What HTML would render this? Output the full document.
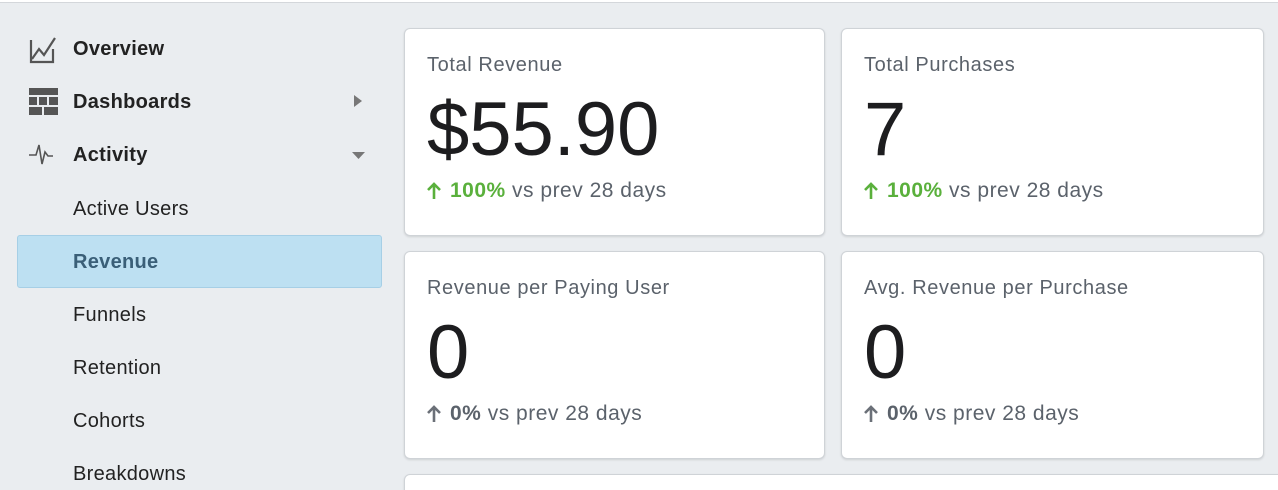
<!DOCTYPE html>
<html><head><meta charset="utf-8"><style>
*{margin:0;padding:0;box-sizing:border-box}
html,body{width:1278px;height:490px;overflow:hidden}
body{background:#eaedf0;font-family:"Liberation Sans",sans-serif;position:relative}
.top{position:absolute;left:0;top:0;width:1278px;height:3px;background:#fff;border-bottom:1px solid #d4d7db}
.nav{position:absolute;left:73px;font-size:20px;color:#222;letter-spacing:0.3px}
.b{font-weight:bold}
.sel{position:absolute;left:17px;top:235px;width:365px;height:53px;background:#bde0f2;border:1px solid #a6cfe6;border-radius:3px}
.card{position:absolute;background:#fff;border:1px solid #cfd3d7;border-radius:6px;box-shadow:0 1px 2px rgba(0,0,0,.12)}
.t{position:absolute;left:22px;top:25px;font-size:20px;color:#5b626b;letter-spacing:0.6px}
.n{position:absolute;left:22px;top:63px;font-size:76px;color:#1d1d1f;line-height:1}
.c{position:absolute;left:22px;top:150px;font-size:21px;color:#5b626b;letter-spacing:0.5px;white-space:nowrap}
.c svg{vertical-align:-2px;margin-right:9px}
.g{color:#5ab03c;font-weight:bold}
.z{color:#5b626b;font-weight:bold}
</style></head><body>
<div class="top"></div>
<svg style="position:absolute;left:28px;top:35px" width="30" height="30" viewBox="0 0 30 30" fill="none" stroke="#555" stroke-width="2.2"><path d="M3 5V27H25V14"/><path d="M4 24L11 14L16 20L27 3"/></svg>
<div class="nav b" style="top:38px">Overview</div>
<svg style="position:absolute;left:29px;top:88px" width="29" height="28" viewBox="0 0 29 28" fill="#555"><rect x="0" y="0" width="29" height="7"/><rect x="0" y="9" width="8" height="8"/><rect x="10" y="9" width="8" height="8"/><rect x="20" y="9" width="9" height="8"/><rect x="0" y="19" width="13" height="8"/><rect x="15" y="19" width="14" height="8"/></svg>
<div class="nav b" style="top:91px">Dashboards</div>
<svg style="position:absolute;left:354px;top:95px" width="8" height="12"><path d="M0 0L8 6L0 12Z" fill="#777"/></svg>
<svg style="position:absolute;left:29px;top:142px" width="29" height="24" viewBox="0 0 29 24" fill="none" stroke="#555" stroke-width="1.6"><path d="M0 13H7L10 3L13 22L16 10L19 14H24"/></svg>
<div class="nav b" style="top:144px">Activity</div>
<svg style="position:absolute;left:352px;top:152px" width="13" height="7"><path d="M0 0H13L6.5 7Z" fill="#777"/></svg>
<div class="nav" style="top:198px">Active Users</div>
<div class="sel"></div>
<div class="nav b" style="top:251px;color:#3a5f78">Revenue</div>
<div class="nav" style="top:304px">Funnels</div>
<div class="nav" style="top:357px">Retention</div>
<div class="nav" style="top:410px">Cohorts</div>
<div class="nav" style="top:463px">Breakdowns</div>

<div class="card" style="left:404px;top:28px;width:421px;height:208px"><div class="t">Total Revenue</div><div class="n">$55.90</div><div class="c"><svg width="14" height="17" viewBox="0 0 14 17" fill="none" stroke="#5ab03c" stroke-width="2.6"><path d="M7 17V2M1 8L7 2L13 8"/></svg><span class="g">100%</span> vs prev 28 days</div></div>
<div class="card" style="left:841px;top:28px;width:423px;height:208px"><div class="t">Total Purchases</div><div class="n">7</div><div class="c"><svg width="14" height="17" viewBox="0 0 14 17" fill="none" stroke="#5ab03c" stroke-width="2.6"><path d="M7 17V2M1 8L7 2L13 8"/></svg><span class="g">100%</span> vs prev 28 days</div></div>
<div class="card" style="left:404px;top:251px;width:421px;height:208px"><div class="t">Revenue per Paying User</div><div class="n">0</div><div class="c"><svg width="14" height="17" viewBox="0 0 14 17" fill="none" stroke="#6b7078" stroke-width="2.6"><path d="M7 17V2M1 8L7 2L13 8"/></svg><span class="z">0%</span> vs prev 28 days</div></div>
<div class="card" style="left:841px;top:251px;width:423px;height:208px"><div class="t">Avg. Revenue per Purchase</div><div class="n">0</div><div class="c"><svg width="14" height="17" viewBox="0 0 14 17" fill="none" stroke="#6b7078" stroke-width="2.6"><path d="M7 17V2M1 8L7 2L13 8"/></svg><span class="z">0%</span> vs prev 28 days</div></div>
<div class="card" style="left:404px;top:474px;width:880px;height:40px"></div>
</body></html>
